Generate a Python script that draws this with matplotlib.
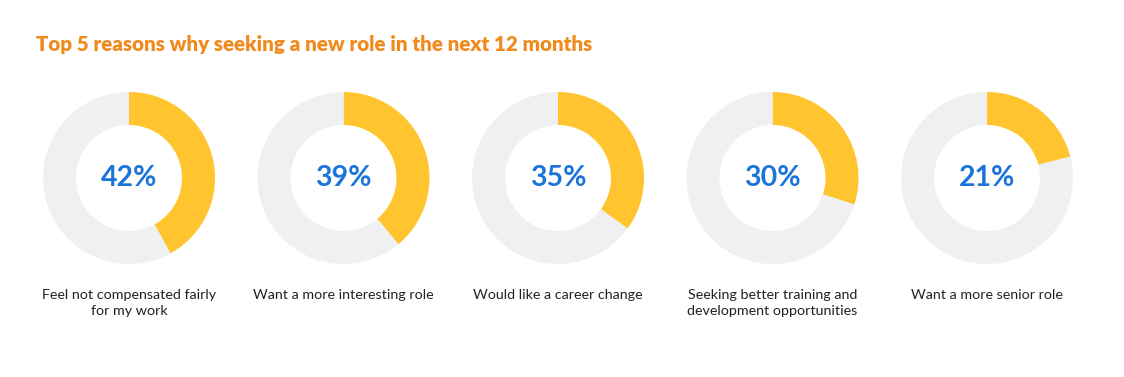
import matplotlib.pyplot as plt

# Data
reasons = [
    'Feel not compensated fairly\nfor my work',
    'Want a more interesting role',
    'Would like a career change',
    'Seeking better training and\ndevelopment opportunities',
    'Want a more senior role',
]
percentages = [42, 39, 35, 30, 21]

W, H = 1124, 377
YELLOW = '#FFC42E'
GREY = '#EFF0F2'
BLUE = '#1B74DA'
ORANGE = '#F08A1C'

fig = plt.figure(figsize=(W / 100, H / 100), dpi=100)
ax = fig.add_axes([0, 0, 1, 1])

x0, step, cy = 129, 214.5, 178
outer, ring = 86, 33

for i, (reason, pct) in enumerate(zip(reasons, percentages)):
    cx = x0 + i * step
    ax.pie([pct, 100 - pct], colors=[YELLOW, GREY], startangle=90, counterclock=False,
           center=(cx, H - cy), radius=outer,
           wedgeprops=dict(width=ring, edgecolor='none', linewidth=0))
    ax.text(cx, H - cy, f'{pct}%', ha='center', va='center', fontsize=20.5,
            fontweight='bold', color=BLUE, family='Lato')
    ax.text(cx, H - 289, reason, ha='center', va='top', fontsize=10.3,
            color='#222222', family='Lato', linespacing=1.4)

ax.text(36, H - 45, 'Top 5 reasons why seeking a new role in the next 12 months',
        ha='left', va='center', fontsize=14.8, fontweight='heavy', color=ORANGE, family='Lato')

ax.set_xlim(0, W)
ax.set_ylim(0, H)
ax.set_aspect('equal')
ax.axis('off')

fig.savefig('out.png', dpi=100)
